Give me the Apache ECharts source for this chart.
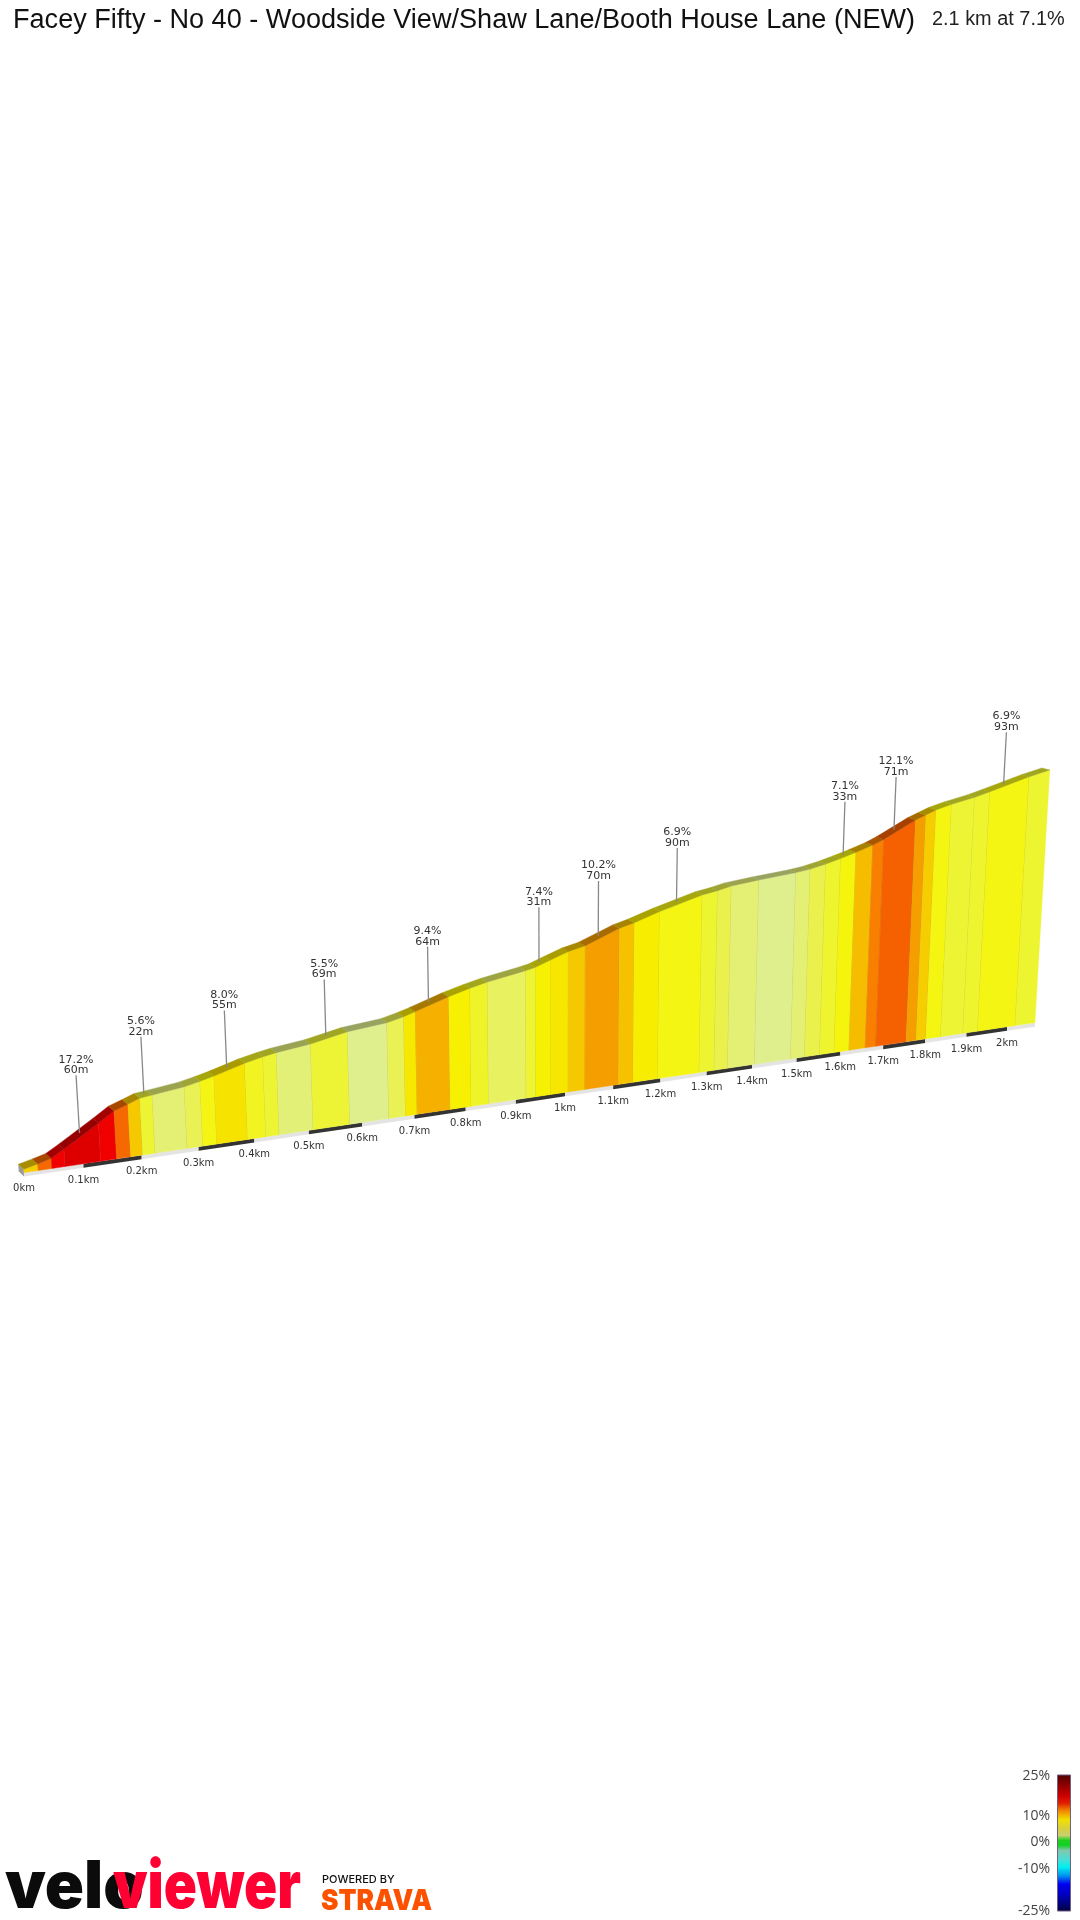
<!DOCTYPE html>
<html><head><meta charset="utf-8">
<style>html,body{margin:0;padding:0;background:#fff}#c{width:1080px;height:1920px}</style>
<script src="https://cdn.jsdelivr.net/npm/echarts@6/dist/echarts.min.js"></script>
</head><body><div id="c"></div>
<script>
// distance (km) and elevation gain (m) read at each gradient boundary
const km=[0,.0238,.0468,.0687,.1293,.1568,.1809,.2018,.2237,.28,.3078,.3328,.388,.4212,.4456,.5083,.5769,.651,.683,.7053,.7696,.8111,.8455,.921,.9406,.9707,1.0068,1.0412,1.1108,1.1417,1.1943,1.2838,1.3166,1.346,1.4057,1.4867,1.5183,1.5526,1.586,1.6202,1.658,1.6825,1.7542,1.778,1.8013,1.8374,1.8916,1.9275,2.0206,2.07];
const elev=[1.6,3.1,4.8,8.2,18.2,23,25.3,27.4,28.1,30,31.6,33.3,37.5,39.5,40.7,42.8,46.5,48.5,50.5,52.3,57.8,60.8,62.9,66.4,67.5,70.4,73.7,75.8,82.9,85,89.4,95.9,97.3,99,100.7,102.6,103.7,105.6,107.9,110.4,113.5,116.1,125.3,127.6,129.9,132.3,135.1,137.5,144.1,147];
// gradient (%) of each stretch between boundaries
const grade=[8.8,11.8,14.5,17.2,14.5,11.8,9,5.6,4,4.8,6.9,8,6.4,5.6,3.8,5.5,3,4.8,7.8,9.4,7.5,6,4.5,5.6,7.4,7.9,9,10.2,9.1,7.6,6.9,5.7,5,4,3,4,5,5.8,7.1,9.2,11,12.1,10.2,8.8,7,5.6,5.8,6.9,5.7];
// callouts
const calloutKm=[.1009,.214,.3608,.5421,.7366,.9542,1.0743,1.2367,1.5994,1.7139,1.9688];
const calloutGrade=['17.2%','5.6%','8.0%','5.5%','9.4%','7.4%','10.2%','6.9%','7.1%','12.1%','6.9%'];
const calloutLength=['60m','22m','55m','69m','64m','31m','70m','90m','33m','71m','93m'];
// distance ticks
const tickKm=[0,.1,.2,.3,.4,.5,.6,.7,.8,.9,1,1.1,1.2,1.3,1.4,1.5,1.6,1.7,1.8,1.9,2];
const tickLabels=['0km','0.1km','0.2km','0.3km','0.4km','0.5km','0.6km','0.7km','0.8km','0.9km','1km','1.1km','1.2km','1.3km','1.4km','1.5km','1.6km','1.7km','1.8km','1.9km','2km'];
const legendTicks=['25%','10%','0%','-10%','-25%'];
const legendValues=[25,10,0,-10,-25];
const titleText='Facey Fifty - No 40 - Woodside View/Shaw Lane/Booth House Lane (NEW)';
const summaryText='2.1 km at 7.1%';

// colour ramp for the wall
const ramp=[[3,'#DFEF8D'],[4,'#E4F073'],[5,'#EBF14C'],[5.5,'#ECF435'],[6.4,'#F1F420'],[7,'#F4F510'],[7.5,'#F7F000'],[8,'#F7E300'],[9,'#F6C800'],[9.4,'#F5B000'],[10.2,'#F59E00'],[11,'#F87F00'],[12.1,'#F56000'],[13,'#F53000'],[14.5,'#F00000'],[17.2,'#DE0000'],[25,'#500000']];
function rgb(h){return [1,3,5].map(i=>parseInt(h.substr(i,2),16));}
function gradeRGB(g){
  if(g<=ramp[0][0])return rgb(ramp[0][1]);
  for(let i=1;i<ramp.length;i++){
    if(g<=ramp[i][0]){
      const t=(g-ramp[i-1][0])/(ramp[i][0]-ramp[i-1][0]),a=rgb(ramp[i-1][1]),b=rgb(ramp[i][1]);
      return a.map((v,j)=>v+(b[j]-v)*t);
    }
  }
  return rgb(ramp[ramp.length-1][1]);
}
function css(c,m,a){return 'rgba('+c.map(v=>Math.round(v*m)).join(',')+','+(a==null?1:a)+')';}

// oblique perspective view of the road: distance, elevation, across-road fraction -> scene position
function scene(d,e,w){
  const xb=(24+604.3*d)/(1+.112*d), yb=1172.6-.1483*(xb-24);
  const h=e*2.118/(1+.112*d), k=h/(9100-yb);
  const t=d/2.07;
  return [xb+(xb-561)*k+w*(-5.5-2.5*t), yb-h+w*(-5+3*t)];
}
function elevAt(d){
  for(let i=1;i<km.length;i++) if(d<=km[i]) return elev[i-1]+(elev[i]-elev[i-1])*(d-km[i-1])/(km[i]-km[i-1]);
  return elev[elev.length-1];
}
const segs=grade.map((g,i)=>[km[i],km[i+1],elev[i],elev[i+1],g]);
const FONT='"DejaVu Sans",Verdana,sans-serif';

function wallItem(p,api){
  const a=api.value(0),b=api.value(1),ea=api.value(2),eb=api.value(3),g=api.value(4);
  const P=(d,e,w)=>api.coord(scene(d,e,w));
  const c=gradeRGB(g);
  const poly=[P(a,ea,0),P(b,eb,0),P(b,0,0),P(a,0,0)];
  const top=[P(a,ea,0),P(b,eb,0),P(b,eb,1),P(a,ea,1)];
  const kids=[
    {type:'polygon',shape:{points:poly},style:{fill:css(c,1),stroke:css(c,1),lineWidth:.4}},
    {type:'polygon',shape:{points:top},style:{fill:css(c,.68),stroke:css(c,.68),lineWidth:.4}}
  ];
  if(b<km[km.length-1]){
    const q=[P(b,eb,0),P(b,0,0)];
    kids.push({type:'line',shape:{x1:q[0][0],y1:q[0][1],x2:q[1][0],y2:q[1][1]},style:{stroke:'rgba(130,110,40,.32)',lineWidth:1}});
  }
  return {type:'group',children:kids};
}
function baseItem(p,api){
  // slab under the wall: alternating tenths of a kilometre
  const a=api.value(0),b=api.value(1),dark=api.value(2);
  const A=api.coord(scene(a,0,0)),B=api.coord(scene(b,0,0));
  return {type:'polygon',shape:{points:[A,B,[B[0],B[1]+4],[A[0],A[1]+4]]},style:{fill:dark?'#333333':'#E4E4E4'}};
}
const slabEdges=tickKm.concat([km[km.length-1]]);
const slab=slabEdges.slice(0,-1).map((d,i)=>[d,slabEdges[i+1],i%2]);

function capItem(p,api){
  const A=api.coord(scene(0,elev[0],0)),B=api.coord(scene(0,0,0));
  const C=api.coord(scene(0,elev[0],1));
  return {type:'polygon',shape:{points:[A,[B[0],B[1]+4],[C[0]+.5,C[1]+7],C]},style:{fill:'#9a9a9a'}};
}
function tickItem(p,api){
  const A=api.coord(scene(api.value(0),0,0));
  return {type:'text',style:{text:tickLabels[p.dataIndex],x:A[0],y:A[1]+16.3,align:'center',verticalAlign:'middle',fontSize:10,fontFamily:FONT,fill:'#333'}};
}
function calloutItem(p,api){
  const d=api.value(0),e=elevAt(d),f=1+.112*d;
  const rise=(58-3.2*d)*f/2.118;
  const A=api.coord(scene(d,e,.5)),B=api.coord(scene(d,e+rise,.5));
  const tx={align:'center',verticalAlign:'middle',fontSize:11,fontFamily:FONT,fill:'#333'};
  return {type:'group',children:[
    {type:'line',shape:{x1:A[0],y1:A[1],x2:B[0],y2:B[1]},style:{stroke:'#888',lineWidth:1.3}},
    {type:'text',style:Object.assign({text:calloutGrade[p.dataIndex],x:B[0],y:B[1]-15.6},tx)},
    {type:'text',style:Object.assign({text:calloutLength[p.dataIndex],x:B[0],y:B[1]-5},tx)}
  ]};
}
const chart=echarts.init(document.getElementById('c'),null,{renderer:'canvas'});
const base={type:'custom',coordinateSystem:'cartesian2d',clip:false,silent:true,animation:false};
const barTop=1775,barBottom=1911;
const legendY={25:1775.7,10:1815.7,0:1842,'-10':1869,'-25':1910.7};
chart.setOption({
  animation:false,backgroundColor:'#fff',
  grid:{left:0,right:0,top:0,bottom:0},
  xAxis:{type:'value',min:0,max:1080,show:false},
  yAxis:{type:'value',min:0,max:1920,inverse:true,show:false},
  series:[
    Object.assign({},base,{name:'cap',data:[[0]],renderItem:capItem}),
    Object.assign({},base,{name:'slab',data:slab,renderItem:baseItem,encode:{x:0,y:1}}),
    Object.assign({},base,{name:'wall',data:segs,renderItem:wallItem,encode:{x:[0,1],y:[2,3]}}),
    Object.assign({},base,{name:'ticks',data:tickKm.map(d=>[d]),renderItem:tickItem,encode:{x:0}}),
    Object.assign({},base,{name:'callouts',data:calloutKm.map(d=>[d]),renderItem:calloutItem,encode:{x:0}})
  ],
  graphic:[
    {type:'text',x:13,y:7,scaleX:1.003,style:{text:titleText,font:'27px "Liberation Sans",Arial,sans-serif',fill:'#111'},silent:true},
    {type:'text',x:932,y:10,scaleX:1.02,style:{text:summaryText,font:'19.5px "Liberation Sans",Arial,sans-serif',fill:'#222'},silent:true},
    {type:'rect',shape:{x:1057.5,y:barTop,width:13,height:barBottom-barTop},silent:true,style:{stroke:'#6f5f80',lineWidth:1,
      fill:new echarts.graphic.LinearGradient(0,0,0,1,[
       {offset:0,color:'#500000'},{offset:.16,color:'#D00000'},{offset:.21,color:'#E02000'},{offset:.26,color:'#F08000'},
       {offset:.33,color:'#F0E000'},{offset:.395,color:'#D8D040'},{offset:.445,color:'#C8D070'},{offset:.48,color:'#20D020'},
       {offset:.515,color:'#10D020'},{offset:.555,color:'#80C8B0'},{offset:.63,color:'#40E0D8'},{offset:.675,color:'#00F0F0'},
       {offset:.74,color:'#0090F0'},{offset:.80,color:'#0000F0'},{offset:.875,color:'#0000C0'},{offset:1,color:'#000040'}])}},
    ...legendTicks.map((t,i)=>({type:'text',x:1050,y:legendY[legendValues[i]],silent:true,style:{text:t,align:'right',verticalAlign:'middle',font:'14px "Open Sans",sans-serif',fill:'#444'}})),
    {type:'text',x:5,y:1855,scaleX:.98,silent:true,style:{text:'velo',font:'900 66px Inter,sans-serif',fill:'#0b0b0b'}},
    {type:'text',x:113,y:1855,scaleX:.83,silent:true,style:{text:'viewer',font:'900 66px Inter,sans-serif',fill:'#FF0033'}},
    {type:'text',x:322,y:1874.5,silent:true,style:{text:'POWERED BY',font:'500 11px Inter,sans-serif',fill:'#111'}},
    {type:'text',x:321,y:1887,scaleX:.905,silent:true,style:{text:'STRAVA',font:'900 29px Inter,sans-serif',fill:'#FC5200'}}
  ]
});
</script></body></html>
